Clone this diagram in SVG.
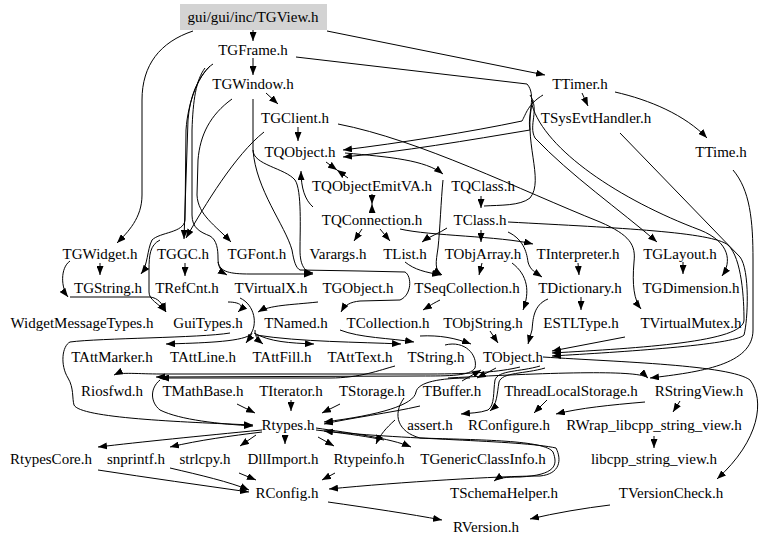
<svg xmlns="http://www.w3.org/2000/svg" width="768" height="546" viewBox="0 0 768 546">
<defs>
<marker id="a" viewBox="0 0 9 7" refX="9" refY="3.5" markerWidth="9" markerHeight="7" markerUnits="userSpaceOnUse" orient="auto"><path d="M0,0 L9,3.5 L0,7 z" fill="#000"/></marker>
<style>
.e{fill:none;stroke:#000;stroke-width:1;marker-end:url(#a)}
.n{fill:none;stroke:#000;stroke-width:1}
text{font-family:"Liberation Serif","Times New Roman",serif;font-size:15px;text-anchor:middle;fill:#000}
</style>
</defs>
<rect width="768" height="546" fill="#fff"/>
<g id="edges">
<path class="e" d="M253,30 L253,41"/>
<path class="e" d="M327,31 L545,75"/>
<path class="e" d="M193,31 C160,42 142,65 142,100 L142,195 C142,218 128,232 117,243"/>
<path class="e" d="M253,58 L253,75"/>
<path class="e" d="M266,93 L278,104"/>
<path class="e" d="M582,93 L588,106"/>
<path class="e" d="M615,92 C650,100 685,115 707,138"/>
<path class="e" d="M298,127 L298,141"/>
<path class="e" d="M543,95 C528,104 526,114 522,121 C470,132 400,143 343,150"/>
<path class="e" d="M296,57 L527,84 C537,95 527,115 530,130 C470,140 400,152 343,157"/>
<path class="e" d="M326,162 L337,170"/>
<path class="e" d="M348,178 L337,170"/>
<path class="e" d="M372,194 L372,204"/>
<path class="e" d="M372,213 L372,204"/>
<path class="e" d="M313,207 C305,200 301,188 301,171"/>
<path class="e" d="M362,229 L354,241"/>
<path class="e" d="M380,229 L390,241"/>
<path class="e" d="M447,228 C440,233 430,236 422,242"/>
<path class="e" d="M345,153 C390,157 425,160 443,174"/>
<path class="e" d="M443,180 C441,200 440,230 438,248 C436,262 434,270 442,275"/>
<path class="e" d="M481,196 L481,208"/>
<path class="n" d="M533,100 C522,140 545,180 530,198 C520,206 500,205 484,206"/>
<path class="e" d="M481,230 L481,242"/>
<path class="e" d="M400,229 C430,236 500,236 533,244"/>
<path class="e" d="M338,124 C420,140 520,190 600,222 C630,235 636,245 634,262 C632,285 634,300 641,309"/>
<path class="e" d="M530,95 C540,110 528,125 535,138 C570,175 620,210 657,242"/>
<path class="e" d="M620,133 L740,257 C750,270 748,320 744,335 C735,345 620,352 552,356"/>
<path class="e" d="M733,170 C750,190 753,220 753,260 L753,330 C753,365 700,372 650,378"/>
<path class="e" d="M508,222 C620,228 712,232 728,245 C742,258 744,300 744,320 C744,342 640,348 552,353"/>
<path class="e" d="M683,262 L683,274"/>
<path class="e" d="M532,105 C545,150 620,200 700,230 C730,242 732,262 722,276"/>
<path class="e" d="M578,263 L579,275"/>
<path class="e" d="M581,297 L581,310"/>
<path class="e" d="M482,263 L479,275"/>
<path class="e" d="M405,262 C415,270 425,272 441,275"/>
<path class="e" d="M508,232 C525,240 527,255 528,262 C530,270 536,273 542,277"/>
<path class="e" d="M100,263 L100,275"/>
<path class="e" d="M70,261 C60,268 61,288 68,297"/>
<path class="e" d="M70,297 L150,297 C158,298 162,303 166,312"/>
<path class="e" d="M213,64 C200,72 188,100 186,130 L185,220 C184,233 160,232 152,240 C147,250 148,265 141,274"/>
<path class="e" d="M210,66 C198,78 190,95 188,120 L184,239"/>
<path class="e" d="M264,132 C235,155 205,205 186,238"/>
<path class="e" d="M232,99 C210,115 200,135 198,160 L197,195 C198,215 215,225 231,242"/>
<path class="e" d="M205,68 C196,80 193,100 192,130 L192,215 C192,228 200,232 210,236 C217,240 218,250 218,258 C218,266 220,271 227,275"/>
<path class="e" d="M185,263 L185,276"/>
<path class="e" d="M160,240 C150,245 149,255 149,270 L149,292 C149,300 158,303 166,312"/>
<path class="e" d="M218,262 C220,272 230,274 250,274 L313,274"/>
<path class="e" d="M253,99 L253,150 C253,165 285,168 295,180 C302,190 300,230 300,250 C300,266 305,272 313,273"/>
<path class="e" d="M253,150 C256,190 285,225 292,250 C294,262 296,268 300,270 L360,271 L405,272 C412,276 412,295 400,300 L360,301 C350,302 345,305 341,312"/>
<path class="e" d="M440,300 C430,305 428,307 423,310"/>
<path class="e" d="M228,302 C238,302 246,305 238,312"/>
<path class="e" d="M318,302 C290,305 270,305 258,312"/>
<path class="e" d="M512,263 C528,275 530,292 523,310"/>
<path class="e" d="M490,331 L498,343"/>
<path class="e" d="M548,299 C533,305 533,320 532,330 L528,344"/>
<path class="e" d="M625,337 L552,351"/>
<path class="e" d="M240,298 C255,305 258,325 250,335 C240,342 200,343 166,344"/>
<path class="e" d="M252,333 C250,337 249,339 246,343"/>
<path class="e" d="M255,330 C255,337 258,340 263,344"/>
<path class="e" d="M254,333 C270,342 290,343 314,344"/>
<path class="e" d="M256,335 C300,342 360,342 401,344"/>
<path class="e" d="M340,330 C360,338 390,338 414,342"/>
<path class="e" d="M420,336 C440,335 455,338 471,344"/>
<path class="e" d="M445,345 C465,340 478,355 475,368 C470,376 450,376 420,376 L156,377"/>
<path class="e" d="M520,367 C500,372 470,374 430,374 L160,374 C140,374 120,372 114,375"/>
<path class="e" d="M395,366 C380,370 360,378 330,378 L160,378"/>
<path class="e" d="M462,381 L481,370"/>
<path class="e" d="M496,368 L477,378"/>
<path class="e" d="M448,378 C560,372 640,370 648,378"/>
<path class="e" d="M230,333 C200,338 100,338 70,342 C62,346 60,365 68,378 C74,388 72,398 74,405 C80,418 180,422 253,425"/>
<path class="e" d="M160,380 C150,388 150,402 160,410 C180,420 220,424 253,426"/>
<path class="e" d="M237,404 L255,413"/>
<path class="e" d="M291,400 L291,411"/>
<path class="e" d="M340,404 L322,413"/>
<path class="e" d="M470,378 C440,378 418,382 416,392 C414,405 380,415 324,422"/>
<path class="e" d="M420,406 C390,413 350,418 324,424"/>
<path class="e" d="M384,440 C370,437 350,434 324,431"/>
<path class="e" d="M395,420 C386,428 380,435 376,444"/>
<path class="e" d="M547,400 L534,413"/>
<path class="e" d="M645,402 C610,405 580,408 556,414"/>
<path class="e" d="M680,401 L673,412"/>
<path class="e" d="M540,366 C520,372 498,370 495,380 C493,392 495,405 488,410 C480,413 470,413 461,414"/>
<path class="e" d="M545,368 C525,374 502,372 499,382 C497,394 497,405 490,411"/>
<path class="e" d="M262,430 C200,436 140,442 98,447"/>
<path class="e" d="M262,432 C230,436 200,440 170,447"/>
<path class="e" d="M256,435 L240,446"/>
<path class="e" d="M285,435 L285,444"/>
<path class="e" d="M318,437 L334,446"/>
<path class="e" d="M316,428 C350,433 390,438 411,447"/>
<path class="e" d="M404,398 C392,415 398,432 420,438 C480,440 545,440 553,452 C558,465 556,475 520,477 C505,477 498,478 494,481"/>
<path class="e" d="M316,430 C400,440 520,440 556,448 C562,460 560,474 540,476 C500,476 400,482 329,489"/>
<path class="e" d="M98,470 C150,478 200,485 249,492"/>
<path class="e" d="M170,468 C200,475 230,482 249,490"/>
<path class="e" d="M239,473 L256,480"/>
<path class="e" d="M335,473 L322,480"/>
<path class="e" d="M654,436 L654,448"/>
<path class="e" d="M328,502 C370,508 410,514 442,520"/>
<path class="e" d="M610,505 C585,508 555,513 530,519"/>
<path class="e" d="M543,357 C620,362 730,365 750,380 C765,400 760,440 717,479"/>
</g>
<g id="TGView"><rect x="180" y="4" width="147" height="26" fill="#d3d3d3"/><text x="253" y="22">gui/gui/inc/TGView.h</text></g>
<g id="TGFrame"><text x="253" y="55">TGFrame.h</text></g>
<g id="TGWindow"><text x="253" y="89">TGWindow.h</text></g>
<g id="TGClient"><text x="295" y="123">TGClient.h</text></g>
<g id="TQObject"><text x="300" y="157">TQObject.h</text></g>
<g id="TQObjectEmitVA"><text x="372" y="191">TQObjectEmitVA.h</text></g>
<g id="TQConnection"><text x="372" y="225">TQConnection.h</text></g>
<g id="Varargs"><text x="338" y="259">Varargs.h</text></g>
<g id="TList"><text x="405" y="259">TList.h</text></g>
<g id="TQClass"><text x="483" y="191">TQClass.h</text></g>
<g id="TClass"><text x="480" y="225">TClass.h</text></g>
<g id="TObjArray"><text x="483" y="259">TObjArray.h</text></g>
<g id="TInterpreter"><text x="578" y="259">TInterpreter.h</text></g>
<g id="TGLayout"><text x="680" y="259">TGLayout.h</text></g>
<g id="TTimer"><text x="580" y="89">TTimer.h</text></g>
<g id="TSysEvtHandler"><text x="596" y="123">TSysEvtHandler.h</text></g>
<g id="TTime"><text x="721" y="157">TTime.h</text></g>
<g id="TGWidget"><text x="100" y="259">TGWidget.h</text></g>
<g id="TGGC"><text x="183" y="259">TGGC.h</text></g>
<g id="TGFont"><text x="257" y="259">TGFont.h</text></g>
<g id="TGString"><text x="108" y="293">TGString.h</text></g>
<g id="TRefCnt"><text x="187" y="293">TRefCnt.h</text></g>
<g id="TVirtualX"><text x="271" y="293">TVirtualX.h</text></g>
<g id="TGObject"><text x="358" y="293">TGObject.h</text></g>
<g id="TSeqCollection"><text x="467" y="293">TSeqCollection.h</text></g>
<g id="TDictionary"><text x="580" y="293">TDictionary.h</text></g>
<g id="TGDimension"><text x="691" y="293">TGDimension.h</text></g>
<g id="WidgetMessageTypes"><text x="82" y="328">WidgetMessageTypes.h</text></g>
<g id="GuiTypes"><text x="208" y="328">GuiTypes.h</text></g>
<g id="TNamed"><text x="296" y="328">TNamed.h</text></g>
<g id="TCollection"><text x="388" y="328">TCollection.h</text></g>
<g id="TObjString"><text x="483" y="328">TObjString.h</text></g>
<g id="ESTLType"><text x="581" y="328">ESTLType.h</text></g>
<g id="TVirtualMutex"><text x="691" y="328">TVirtualMutex.h</text></g>
<g id="TAttMarker"><text x="112" y="362">TAttMarker.h</text></g>
<g id="TAttLine"><text x="203" y="362">TAttLine.h</text></g>
<g id="TAttFill"><text x="282" y="362">TAttFill.h</text></g>
<g id="TAttText"><text x="360" y="362">TAttText.h</text></g>
<g id="TString"><text x="436" y="362">TString.h</text></g>
<g id="TObject"><text x="513" y="362">TObject.h</text></g>
<g id="Riosfwd"><text x="112" y="396">Riosfwd.h</text></g>
<g id="TMathBase"><text x="203" y="396">TMathBase.h</text></g>
<g id="TIterator"><text x="291" y="396">TIterator.h</text></g>
<g id="TStorage"><text x="372" y="396">TStorage.h</text></g>
<g id="TBuffer"><text x="452" y="396">TBuffer.h</text></g>
<g id="ThreadLocalStorage"><text x="571" y="396">ThreadLocalStorage.h</text></g>
<g id="RStringView"><text x="699" y="396">RStringView.h</text></g>
<g id="Rtypes"><text x="288" y="430">Rtypes.h</text></g>
<g id="assert"><text x="430" y="430">assert.h</text></g>
<g id="RConfigure"><text x="509" y="430">RConfigure.h</text></g>
<g id="RWrap_libcpp_string_view"><text x="654" y="430">RWrap_libcpp_string_view.h</text></g>
<g id="RtypesCore"><text x="51" y="464">RtypesCore.h</text></g>
<g id="snprintf"><text x="136" y="464">snprintf.h</text></g>
<g id="strlcpy"><text x="205" y="464">strlcpy.h</text></g>
<g id="DllImport"><text x="283" y="464">DllImport.h</text></g>
<g id="Rtypeinfo"><text x="369" y="464">Rtypeinfo.h</text></g>
<g id="TGenericClassInfo"><text x="483" y="464">TGenericClassInfo.h</text></g>
<g id="libcpp_string_view"><text x="654" y="464">libcpp_string_view.h</text></g>
<g id="RConfig"><text x="287" y="498">RConfig.h</text></g>
<g id="TSchemaHelper"><text x="504" y="498">TSchemaHelper.h</text></g>
<g id="TVersionCheck"><text x="671" y="498">TVersionCheck.h</text></g>
<g id="RVersion"><text x="486" y="532">RVersion.h</text></g>
</svg>
